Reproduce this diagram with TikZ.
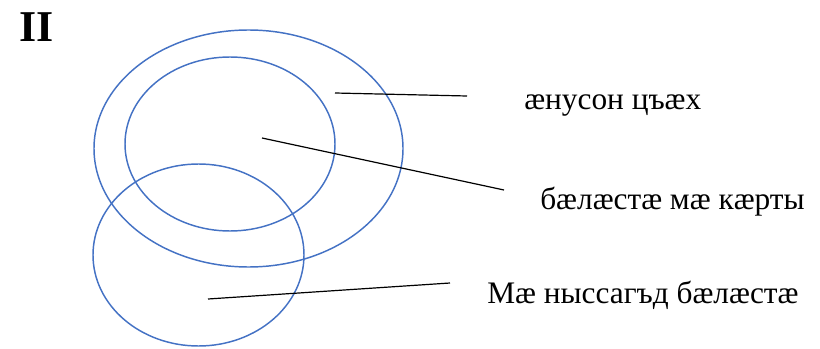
\documentclass[tikz,border=0pt]{standalone}
\usepackage{fontspec}
\setmainfont{Liberation Serif}
\usetikzlibrary{shapes.geometric}
\definecolor{ringblue}{RGB}{68,114,196}
\begin{document}
\begin{tikzpicture}[x=0.75pt,y=-0.75pt,
  ring/.style={draw=ringblue,line width=1.1pt,ellipse,inner sep=0pt},
  lead/.style={draw=black,line width=0.9pt},
  lbl/.style={anchor=west,inner sep=0pt,font=\fontsize{23.5pt}{26pt}\selectfont}]
\useasboundingbox (0,0) rectangle (820,349);
\node[ring,minimum width=309*0.75pt,minimum height=237*0.75pt] (outer) at (248.5,148.5) {};
\node[ring,minimum width=210*0.75pt,minimum height=174*0.75pt] (inner) at (230,144) {};
\node[ring,minimum width=211*0.75pt,minimum height=182*0.75pt] (lower) at (198.5,255) {};
\node[anchor=north west,inner sep=0pt,font=\bfseries\fontsize{33pt}{36pt}\selectfont] (title) at (19,12) {II};
\node[lbl] (t1) at (524,106) {æнусон цъæх};
\node[lbl] (t2) at (540,202) {бæлæстæ мæ кæрты};
\node[lbl] (t3) at (487,295) {Мæ ныссагъд бæлæстæ};
\coordinate (a1) at (335,93); \coordinate (b1) at (467,96);
\coordinate (a2) at (262,138); \coordinate (b2) at (504,190);
\coordinate (a3) at (208,299); \coordinate (b3) at (450,283);
\draw[lead] (a1) -- (b1);
\draw[lead] (a2) -- (b2);
\draw[lead] (a3) -- (b3);
\end{tikzpicture}
\end{document}
